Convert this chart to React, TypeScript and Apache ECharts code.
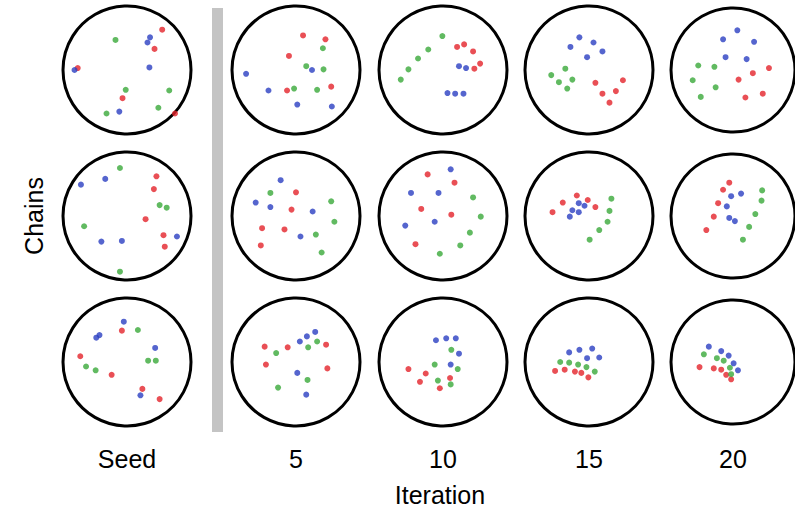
import React, { useEffect, useRef } from 'react';
import * as echarts from 'echarts';

// ---------- data ----------
const columnLabels = ['Seed', '5', '10', '15', '20'];
const xTitle = 'Iteration';
const yTitle = 'Chains';
// chain index: 0 = red, 1 = green, 2 = blue
const chainColors = ['#e4232a', '#3aa93a', '#2a3ec2'];

// points: [x, y, chain], x/y in units of the circle radius, y pointing down
const seedRow1 = [
  [0.55, -0.63, 0], [0.43, -0.33, 0], [-0.77, -0.03, 0], [-0.07, 0.44, 0], [0.75, 0.68, 0],
  [-0.18, -0.47, 1], [-0.02, 0.31, 1], [0.66, 0.32, 1], [0.49, 0.59, 1], [-0.32, 0.68, 1],
  [0.36, -0.51, 2], [0.32, -0.43, 2], [-0.82, 0.0, 2], [0.35, -0.04, 2], [-0.12, 0.65, 2],
];
const it5Row1 = [
  [0.11, -0.54, 0], [0.46, -0.48, 0], [-0.11, -0.22, 0], [-0.14, 0.32, 0], [0.55, 0.26, 0],
  [0.42, -0.34, 1], [0.16, -0.06, 1], [0.43, -0.01, 1], [-0.03, 0.29, 1], [0.33, 0.31, 1],
  [0.25, 0.0, 2], [-0.78, 0.06, 2], [-0.43, 0.32, 2], [0.02, 0.54, 2], [0.56, 0.57, 2],
];
const it10Row1 = [
  [0.22, -0.36, 0], [0.33, -0.4, 0], [0.47, -0.29, 0], [0.49, -0.02, 0], [0.58, -0.1, 0],
  [-0.01, -0.53, 1], [-0.23, -0.32, 1], [-0.39, -0.18, 1], [-0.54, -0.01, 1], [-0.66, 0.15, 1],
  [0.25, -0.06, 2], [0.36, -0.03, 2], [0.07, 0.36, 2], [0.19, 0.37, 2], [0.32, 0.37, 2],
];
const it15Row1 = [
  [0.1, 0.2, 0], [0.53, 0.16, 0], [0.42, 0.33, 0], [0.21, 0.37, 0], [0.32, 0.51, 0],
  [-0.37, -0.02, 1], [-0.59, 0.08, 1], [-0.26, 0.15, 1], [-0.47, 0.19, 1], [-0.34, 0.29, 1],
  [-0.15, -0.51, 2], [0.07, -0.43, 2], [-0.29, -0.36, 2], [0.21, -0.29, 2], [-0.03, -0.2, 2],
];
const it20Row1 = [
  [0.58, -0.03, 0], [0.32, 0.05, 0], [0.09, 0.15, 0], [0.48, 0.37, 0], [0.2, 0.43, 0],
  [-0.56, -0.07, 1], [-0.3, -0.05, 1], [-0.65, 0.16, 1], [-0.28, 0.27, 1], [-0.52, 0.42, 1],
  [0.07, -0.62, 2], [-0.16, -0.48, 2], [0.34, -0.44, 2], [-0.12, -0.2, 2], [0.22, -0.17, 2],
];
const seedRow2 = [
  [0.46, -0.62, 0], [0.42, -0.42, 0], [0.29, 0.05, 0], [0.57, 0.3, 0], [0.59, 0.48, 0],
  [-0.11, -0.75, 1], [0.51, -0.17, 1], [0.62, -0.13, 1], [-0.67, 0.16, 1], [-0.11, 0.87, 1],
  [-0.72, -0.49, 2], [-0.34, -0.58, 2], [0.78, 0.32, 2], [-0.4, 0.4, 2], [-0.08, 0.39, 2],
];
const it5Row2 = [
  [0.0, -0.37, 0], [-0.07, -0.1, 0], [-0.53, 0.19, 0], [-0.18, 0.21, 0], [-0.55, 0.46, 0],
  [-0.4, -0.36, 1], [0.55, -0.23, 1], [0.6, 0.09, 1], [0.31, 0.29, 1], [0.4, 0.57, 1],
  [-0.24, -0.56, 2], [-0.63, -0.21, 2], [-0.4, -0.14, 2], [0.26, -0.07, 2], [0.07, 0.32, 2],
];
const it10Row2 = [
  [-0.24, -0.65, 0], [0.18, -0.52, 0], [-0.34, -0.11, 0], [0.13, -0.02, 0], [-0.43, 0.44, 0],
  [0.47, -0.29, 1], [0.59, 0.01, 1], [0.42, 0.26, 1], [0.27, 0.46, 1], [-0.05, 0.59, 1],
  [0.12, -0.73, 2], [-0.5, -0.36, 2], [-0.07, -0.36, 2], [-0.13, 0.09, 2], [-0.59, 0.15, 2],
];
const it15Row2 = [
  [-0.19, -0.32, 0], [-0.41, -0.21, 0], [-0.02, -0.25, 0], [0.1, -0.14, 0], [-0.57, -0.06, 0],
  [0.35, -0.27, 1], [0.32, -0.08, 1], [0.29, 0.09, 1], [0.16, 0.22, 1], [0.01, 0.37, 1],
  [-0.16, -0.2, 2], [-0.07, -0.16, 2], [-0.26, -0.09, 2], [-0.16, -0.06, 2], [-0.3, 0.01, 2],
];
const it20Row2 = [
  [-0.06, -0.52, 0], [-0.16, -0.41, 0], [-0.24, -0.2, 0], [-0.31, 0.01, 0], [-0.43, 0.22, 0],
  [0.47, -0.4, 1], [0.46, -0.24, 1], [0.36, -0.03, 1], [0.26, 0.17, 1], [0.16, 0.37, 1],
  [-0.03, -0.31, 2], [0.13, -0.35, 2], [-0.1, -0.15, 2], [-0.06, 0.03, 2], [0.03, 0.08, 2],
];
const seedRow3 = [
  [-0.08, -0.49, 0], [-0.73, -0.09, 0], [-0.24, 0.2, 0], [0.24, 0.42, 0], [0.51, 0.58, 0],
  [0.17, -0.5, 1], [-0.64, 0.07, 1], [-0.49, 0.13, 1], [0.33, -0.02, 1], [0.45, -0.02, 1],
  [-0.05, -0.63, 2], [-0.43, -0.42, 2], [-0.48, -0.38, 2], [0.44, -0.22, 2], [0.21, 0.52, 2],
];
const it5Row3 = [
  [-0.49, -0.24, 0], [-0.13, -0.23, 0], [0.47, -0.27, 0], [-0.47, 0.04, 0], [0.49, 0.1, 0],
  [0.33, -0.32, 1], [0.19, -0.23, 1], [-0.31, -0.14, 1], [0.18, 0.28, 1], [-0.28, 0.4, 1],
  [0.3, -0.47, 2], [0.17, -0.4, 2], [0.06, -0.32, 2], [0.02, 0.17, 2], [0.16, 0.51, 2],
];
const it10Row3 = [
  [-0.54, 0.11, 0], [-0.27, 0.18, 0], [-0.36, 0.31, 0], [0.11, 0.25, 0], [-0.05, 0.41, 0],
  [0.13, -0.19, 1], [-0.13, 0.04, 1], [0.23, 0.11, 1], [-0.08, 0.29, 1], [0.12, 0.35, 1],
  [-0.11, -0.34, 2], [0.05, -0.37, 2], [0.2, -0.37, 2], [0.25, -0.13, 2], [0.12, 0.04, 2],
];
const it15Row3 = [
  [-0.53, 0.14, 0], [-0.38, 0.12, 0], [-0.22, 0.15, 0], [-0.12, 0.17, 0], [-0.01, 0.24, 0],
  [-0.45, 0.0, 1], [-0.31, 0.01, 1], [-0.17, 0.04, 1], [-0.04, 0.08, 1], [0.09, 0.15, 1],
  [-0.31, -0.15, 2], [-0.15, -0.19, 2], [0.05, -0.21, 2], [-0.03, -0.06, 2], [0.16, -0.07, 2],
];
const it20Row3 = [
  [-0.54, 0.08, 0], [-0.31, 0.1, 0], [-0.19, 0.12, 0], [-0.11, 0.2, 0], [-0.03, 0.27, 0],
  [-0.47, -0.12, 1], [-0.26, -0.06, 1], [-0.15, -0.02, 1], [-0.05, 0.09, 1], [-0.03, 0.19, 1],
  [-0.39, -0.24, 2], [-0.19, -0.17, 2], [-0.07, -0.1, 2], [0.01, 0.02, 2], [0.08, 0.13, 2],
];

const panelRows = [
  [seedRow1, it5Row1, it10Row1, it15Row1, it20Row1],
  [seedRow2, it5Row2, it10Row2, it15Row2, it20Row2],
  [seedRow3, it5Row3, it10Row3, it15Row3, it20Row3],
];

// ---------- layout (style) ----------
const colCenters = [127, 296, 443, 589, 735];
const rowCenters = [70, 216, 362];
const R = 64;
const FONT = '"Liberation Sans", Arial, Helvetica, sans-serif';

function buildOption() {
  const grid: any[] = [];
  const xAxis: any[] = [];
  const yAxis: any[] = [];
  const series: any[] = [];
  panelRows.forEach((row, r) => {
    row.forEach((pts, c) => {
      const idx = grid.length;
      grid.push({
        left: colCenters[c] - R,
        top: rowCenters[r] - R,
        width: 2 * R,
        height: 2 * R,
        containLabel: false,
      });
      const isBottom = r === panelRows.length - 1;
      xAxis.push({
        type: 'value',
        gridIndex: idx,
        min: -1,
        max: 1,
        show: true,
        axisLine: { show: false },
        axisTick: { show: false },
        axisLabel: { show: false },
        splitLine: { show: false },
        name: isBottom ? columnLabels[c] : '',
        nameLocation: 'middle',
        nameGap: 20,
        nameTextStyle: { fontSize: 25, color: '#000', fontFamily: FONT, verticalAlign: 'top' },
      });
      const isChainAxis = c === 0 && r === 1;
      yAxis.push({
        type: 'value',
        gridIndex: idx,
        min: -1,
        max: 1,
        inverse: true,
        show: true,
        axisLine: { show: false },
        axisTick: { show: false },
        axisLabel: { show: false },
        splitLine: { show: false },
        name: isChainAxis ? yTitle : '',
        nameLocation: 'middle',
        nameRotate: 90,
        nameGap: 17,
        nameTextStyle: { fontSize: 25, color: '#000', fontFamily: FONT },
      });
      series.push({
        type: 'custom',
        xAxisIndex: idx,
        yAxisIndex: idx,
        clip: false,
        silent: true,
        data: [[0, 0]],
        renderItem: (params: any, api: any) => {
          const ctr = api.coord([0, 0]);
          const sz = api.size([1, 1]);
          return {
            type: 'circle',
            shape: { cx: ctr[0], cy: ctr[1], r: sz[0] },
            style: { fill: 'none', stroke: '#000', lineWidth: 3 },
          };
        },
      });
      chainColors.forEach((color, k) => {
        series.push({
          type: 'scatter',
          xAxisIndex: idx,
          yAxisIndex: idx,
          symbol: 'circle',
          symbolSize: 6,
          itemStyle: { color },
          data: pts.filter((p) => p[2] === k).map((p) => [p[0], p[1]]),
        });
      });
    });
  });

  return {
    animation: false,
    backgroundColor: '#fff',
    grid,
    xAxis,
    yAxis,
    series,
    graphic: [
      {
        type: 'rect',
        shape: { x: 212, y: 8, width: 11, height: 424 },
        style: { fill: '#c4c4c4' },
        silent: true,
      },
      {
        type: 'text',
        x: 440,
        y: 495,
        style: {
          text: xTitle,
          fontSize: 25,
          fontFamily: FONT,
          fill: '#000',
          textAlign: 'center',
          textVerticalAlign: 'middle',
        },
      },
    ],
  };
}

export default function App() {
  const ref = useRef<HTMLDivElement>(null);
  useEffect(() => {
    document.body.style.margin = '0';
    if (!ref.current) return;
    const chart = echarts.init(ref.current, undefined, { renderer: 'svg' });
    chart.setOption(buildOption() as any);
    return () => chart.dispose();
  }, []);
  return <div ref={ref} style={{ width: 795, height: 512, overflow: 'hidden' }} />;
}
